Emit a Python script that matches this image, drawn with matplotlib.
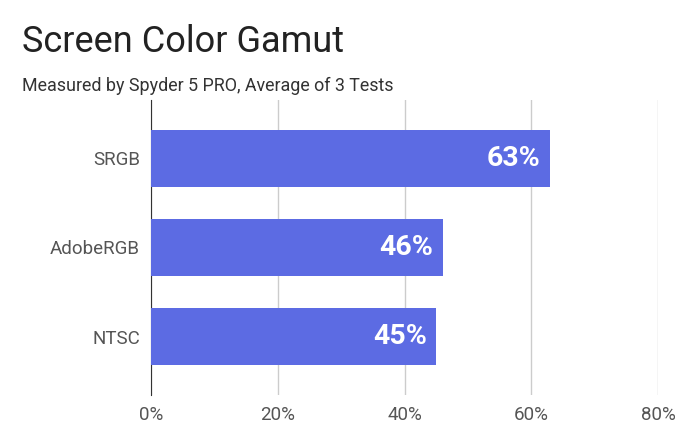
import matplotlib
matplotlib.use("Agg")
import matplotlib.pyplot as plt

categories = ["SRGB", "AdobeRGB", "NTSC"]
values = [63, 46, 45]
ticks = [0, 20, 40, 60, 80]

plt.rcParams["font.family"] = "Roboto"
fig = plt.figure(figsize=(6.95, 4.37), dpi=100)
ax = fig.add_axes([151 / 695, 1 - 395 / 437, 507 / 695, 295 / 437])

y = list(range(len(categories)))
ax.barh(y, values, height=0.64, color="#5C6BE3", zorder=3)
for yi, v in zip(y, values):
    ax.text(v - 1.5, yi, f"{v}%", color="white", fontsize=20.5, fontweight="bold",
            ha="right", va="center", zorder=4)

ax.set_ylim(2.657, -0.657)
ax.set_xlim(0, 80)
ax.set_yticks(y)
ax.set_yticklabels(categories, fontsize=13.5, color="#555555")
ax.set_xticks(ticks)
ax.set_xticklabels([f"{t}%" for t in ticks], fontsize=13.5, color="#555555")
ax.grid(axis="x", color="#cccccc", linewidth=1, zorder=0)
for s in ["top", "right", "bottom"]:
    ax.spines[s].set_visible(False)
ax.spines["left"].set_color("#333333")
ax.tick_params(length=0, pad=8)

fig.text(22 / 695, 1 - 42 / 437, "Screen Color Gamut", fontsize=26, va="center", color="#222222")
fig.text(22 / 695, 1 - 86 / 437, "Measured by Spyder 5 PRO, Average of 3 Tests",
         fontsize=12.9, va="center", color="#333333")

fig.savefig("out.png", dpi=100)
